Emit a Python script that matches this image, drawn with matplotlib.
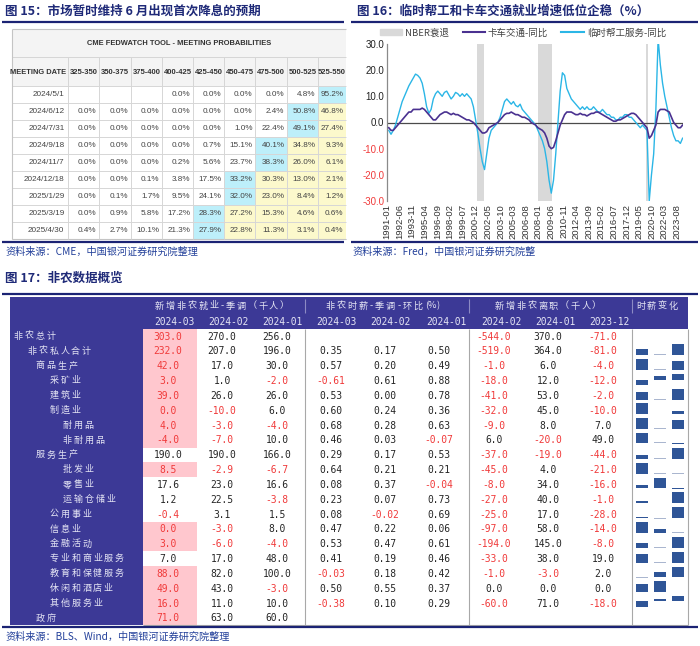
import matplotlib
matplotlib.use('Agg')
import matplotlib.pyplot as plt
import matplotlib.dates as mdates
from matplotlib.patches import Rectangle, Patch
from matplotlib.lines import Line2D
import numpy as np
import pandas as pd

plt.rcParams['font.family'] = ['Noto Sans CJK SC', 'DejaVu Sans']

# ------------------------------------------------------------------ data
# Figure 15: CME FedWatch
fw_title = 'CME FEDWATCH TOOL - MEETING PROBABILITIES'
fw_head = 'MEETING DATE'
fw_ranges = ['325-350', '350-375', '375-400', '400-425', '425-450',
             '450-475', '475-500', '500-525', '525-550']
fw_dates = ['2024/5/1', '2024/6/12', '2024/7/31', '2024/9/18', '2024/11/7',
            '2024/12/18', '2025/1/29', '2025/3/19', '2025/4/30']
fw_probs = [
    [None, None, None, 0.0, 0.0, 0.0, 0.0, 4.8, 95.2],
    [0.0, 0.0, 0.0, 0.0, 0.0, 0.0, 2.4, 50.8, 46.8],
    [0.0, 0.0, 0.0, 0.0, 0.0, 1.0, 22.4, 49.1, 27.4],
    [0.0, 0.0, 0.0, 0.0, 0.7, 15.1, 40.1, 34.8, 9.3],
    [0.0, 0.0, 0.0, 0.2, 5.6, 23.7, 38.3, 26.0, 6.1],
    [0.0, 0.0, 0.1, 3.8, 17.5, 33.2, 30.3, 13.0, 2.1],
    [0.0, 0.1, 1.7, 9.5, 24.1, 32.0, 23.0, 8.4, 1.2],
    [0.0, 0.9, 5.8, 17.2, 28.3, 27.2, 15.3, 4.6, 0.6],
    [0.4, 2.7, 10.1, 21.3, 27.9, 22.8, 11.3, 3.1, 0.4],
]

# Figure 16: quarterly YoY (%), 1991Q1 .. 2024Q1
temp_help = [
    -3, -4.5, -3, -1,   2, 5, 8, 10,   12, 14, 15.5, 17,   18.5, 18, 17, 15,
    11, 6, 3.5, 5,   9, 11, 12, 11,   10, 11.5, 12, 10.5,   9, 10, 11.5, 11,
    10, 11, 10, 11,   10, 9, 6, 1,   -4, -10, -15, -18,   -12, -6, -3, -2,
    -1, 0, 2, 5,   8, 9, 8, 7,   8, 6.5, 6, 7,   5, 4, 3, 2,
    1, 0, -1, -3,   -5, -7, -10, -15,   -22, -27, -22, -12,   0, 12, 19, 18,
    13, 11, 9, 8,   7, 6, 5, 6,   5, 6, 5, 5,   6, 5, 4, 4,
    5, 4, 3, 3,   2, 2, 1, 1,   2, 2, 3, 3,   2, 2, 1, 0,
    -1, -2, -1, -2,   -3, -30, -20, -12,   5, 32, 22, 15,   10, 6, 2, -2,
    -5, -7, -7, -8,   -6]
truck = [
    -2, -3, -3, -2,   -1, 0, 1, 2,   3, 4, 4, 5,   5, 5, 5, 5.5,
    5, 4, 3, 2,   1, 1, 2, 3,   3.5, 4, 4, 3.5,   3, 3.5, 3, 3,
    2.5, 2, 1.5, 1,   1, 0.5, 0, -1,   -2, -3, -4, -4,   -3.5, -2, -1.5, -1,
    -0.5, 0, 1, 2,   3, 3.5, 3.5, 4,   3.5, 3, 3, 2.5,   2, 2, 1.5, 1,
    0, -0.5, -1, -2,   -2.5, -3, -4, -6,   -9, -10, -9.5, -7,   -4, -1, 1, 3,
    4, 4, 4, 3.5,   3, 3, 3.5, 3,   3, 2.5, 3, 3.5,   3.5, 4, 4, 3.5,
    3, 2.5, 2, 1.5,   1, 0.5, 0.5, 1,   1, 1.5, 2, 2.5,   3, 3.5, 3.5, 3,
    2, 1, 0, -1,   -2, -6, -5, -3,   -1, 4, 5, 5,   5, 4.5, 4, 2,
    0, -1, -2, -2,   -1]
recessions = [('2001-03-01', '2001-11-30'), ('2007-12-01', '2009-06-30'),
              ('2020-02-01', '2020-04-30')]
legend_labels = ['NBER衰退', '卡车交通-同比', '临时帮工服务-同比']

# Figure 17: nonfarm overview
nf_rows = ['非农总计', '非农私人合计', '商品生产', '采矿业', '建筑业', '制造业',
           '耐用品', '非耐用品', '服务生产', '批发业', '零售业', '运输仓储业',
           '公用事业', '信息业', '金融活动', '专业和商业服务', '教育和保健服务',
           '休闲和酒店业', '其他服务业', '政府']
nf_level = [0, 1, 2, 3, 3, 3, 4, 4, 2, 4, 4, 4, 3, 3, 3, 3, 3, 3, 3, 2]
nf_groups = ['新增非农就业-季调（千人）', '非农时薪-季调-环比(%)', '新增非农离职（千人）', '时薪变化']
nf_months_pay = ['2024-03', '2024-02', '2024-01']
nf_months_wage = ['2024-03', '2024-02', '2024-01']
nf_months_quit = ['2024-02', '2024-01', '2023-12']
payrolls = [
    [303.0, 270.0, 256.0], [232.0, 207.0, 196.0], [42.0, 17.0, 30.0],
    [3.0, 1.0, -2.0], [39.0, 26.0, 26.0], [0.0, -10.0, 6.0], [4.0, -3.0, -4.0],
    [-4.0, -7.0, 10.0], [190.0, 190.0, 166.0], [8.5, -2.9, -6.7],
    [17.6, 23.0, 16.6], [1.2, 22.5, -3.8], [-0.4, 3.1, 1.5], [0.0, -3.0, 8.0],
    [3.0, -6.0, -4.0], [7.0, 17.0, 48.0], [88.0, 82.0, 100.0],
    [49.0, 43.0, -3.0], [16.0, 11.0, 10.0], [71.0, 63.0, 60.0]]
wages = [
    None, [0.35, 0.17, 0.50], [0.57, 0.20, 0.49], [-0.61, 0.61, 0.88],
    [0.53, 0.00, 0.78], [0.60, 0.24, 0.36], [0.68, 0.28, 0.63],
    [0.46, 0.03, -0.07], [0.29, 0.17, 0.53], [0.64, 0.21, 0.21],
    [0.08, 0.37, -0.04], [0.23, 0.07, 0.73], [0.08, -0.02, 0.69],
    [0.47, 0.22, 0.06], [0.53, 0.47, 0.61], [0.41, 0.19, 0.46],
    [-0.03, 0.18, 0.42], [0.50, 0.55, 0.37], [-0.38, 0.10, 0.29], None]
quits = [
    [-544.0, 370.0, -71.0], [-519.0, 364.0, -81.0], [-1.0, 6.0, -4.0],
    [-18.0, 12.0, -12.0], [-41.0, 53.0, -2.0], [-32.0, 45.0, -10.0],
    [-9.0, 8.0, 7.0], [6.0, -20.0, 49.0], [-37.0, -19.0, -44.0],
    [-45.0, 4.0, -21.0], [-8.0, 34.0, -16.0], [-27.0, 40.0, -1.0],
    [-25.0, 17.0, -28.0], [-97.0, 58.0, -14.0], [-194.0, 145.0, -8.0],
    [-33.0, 38.0, 19.0], [-1.0, -3.0, 2.0], [0.0, 0.0, 0.0],
    [-60.0, 71.0, -18.0], None]

titles = ['图 15：市场暂时维持 6 月出现首次降息的预期',
          '图 16：临时帮工和卡车交通就业增速低位企稳（%）',
          '图 17：非农数据概览']
sources = ['资料来源：CME，中国银河证券研究院整理',
           '资料来源：Fred，中国银河证券研究院整',
           '资料来源：BLS、Wind，中国银河证券研究院整理']

# ------------------------------------------------------------------ style
NAVY = '#1b2374'
TITLE_C = '#1f2a78'
SRC_C = '#23409a'
RED = '#f03a3a'
DARK = '#252525'
PURPLE_BG = '#3c3996'
HEAD_TXT = '#e4e4f4'
CJK = ['Noto Sans CJK SC', 'DejaVu Sans']
MONO = ['DejaVu Sans Mono']
SANS = ['Liberation Sans', 'DejaVu Sans']

fig = plt.figure(figsize=(7.0, 6.46), dpi=100)
ax0 = fig.add_axes([0, 0, 1, 1])
ax0.set_xlim(0, 700)
ax0.set_ylim(646, 0)
ax0.axis('off')


def hline(y, x1, x2, c=NAVY, lw=1.6, z=5):
    ax0.plot([x1, x2], [y, y], color=c, lw=lw, solid_capstyle='butt', zorder=z)


def vline(x, y1, y2, c='#a8a8a8', lw=0.8, z=5):
    ax0.plot([x, x], [y1, y2], color=c, lw=lw, solid_capstyle='butt', zorder=z)


def spaced(x, y, s, step, ha='left', **kw):
    widths = [step if ord(ch) > 255 else step * 0.55 for ch in s]
    total = sum(widths)
    if ha == 'center':
        x = x - total / 2
    cx = x
    for ch, w in zip(s, widths):
        ax0.text(cx + w / 2, y, ch, ha='center', va='center', **kw)
        cx += w


# titles, rules, sources
ax0.text(5, 11, titles[0], fontsize=9, fontweight='bold', color=TITLE_C,
         va='center', ha='left', family=CJK)
ax0.text(357, 11, titles[1], fontsize=9, fontweight='bold', color=TITLE_C,
         va='center', ha='left', family=CJK)
ax0.text(5, 278, titles[2], fontsize=9, fontweight='bold', color=TITLE_C,
         va='center', ha='left', family=CJK)
hline(22, 2, 344)
hline(22, 351, 698)
hline(242, 2, 344)
hline(242, 351, 698)
hline(294, 2, 698)
hline(627, 2, 698)
ax0.text(5, 252, sources[0], fontsize=7.3, color=SRC_C, style='italic',
         va='center', ha='left', family=CJK)
ax0.text(352, 252, sources[1], fontsize=7.3, color=SRC_C, style='italic',
         va='center', ha='left', family=CJK)
ax0.text(5, 637, sources[2], fontsize=7.3, color=SRC_C, style='italic',
         va='center', ha='left', family=CJK)

# ------------------------------------------------------------------ Fig 15 table
edges = [12, 68, 99, 131, 162, 193, 224, 255, 287, 318, 346]
t_top, t_title_b, t_head_b, row_h = 29, 57, 86, 17.0
n_rows = len(fw_dates)
t_bot = t_head_b + row_h * n_rows
GRID = '#d6d6d6'
ax0.add_patch(Rectangle((edges[0], t_top), edges[-1] - edges[0], t_head_b - t_top,
                        fc='#f4f4f4', ec='none', zorder=1))
CYAN, YELL = '#bdeffa', '#fcf9cc'
for i, row in enumerate(fw_probs):
    vals = [v if v is not None else -1 for v in row]
    imax = int(np.argmax(vals))
    y0 = t_head_b + i * row_h
    for j, v in enumerate(row):
        if v is None:
            continue
        fc = None
        if j == imax:
            fc = CYAN
        elif j > imax:
            fc = YELL
        if fc:
            ax0.add_patch(Rectangle((edges[j + 1], y0), edges[j + 2] - edges[j + 1], row_h,
                                    fc=fc, ec='none', zorder=1))
        ax0.text(edges[j + 2] - 2.5, y0 + row_h / 2 + 0.3, f'{v:.1f}%', fontsize=5.9,
                 ha='right', va='center', color='#444444', family=SANS, zorder=6)
    ax0.text(edges[1] - 3.5, y0 + row_h / 2 + 0.3, fw_dates[i], fontsize=5.9,
             ha='right', va='center', color='#444444', family=SANS, zorder=6)
# grid
for k in range(n_rows + 1):
    hline(t_head_b + k * row_h, edges[0], edges[-1], c=GRID, lw=0.7, z=3)
hline(t_title_b, edges[0], edges[-1], c=GRID, lw=0.7, z=3)
hline(t_top, edges[0], edges[-1], c='#c4c4c4', lw=0.8, z=3)
hline(t_bot, edges[0], edges[-1], c='#c4c4c4', lw=0.8, z=3)
vline(edges[0], t_top, t_bot, c='#c4c4c4', lw=0.8, z=3)
for x in edges[1:-1]:
    vline(x, t_title_b, t_bot, c=GRID, lw=0.7, z=3)
ax0.text((edges[0] + edges[-1]) / 2, (t_top + t_title_b) / 2 + 0.5, fw_title,
         fontsize=5.4, fontweight='bold', ha='center', va='center', color='#333333',
         family=SANS, zorder=6)
ax0.text((edges[0] + edges[1]) / 2 - 2, (t_title_b + t_head_b) / 2 + 0.5, fw_head,
         fontsize=5.4, fontweight='bold', ha='center', va='center', color='#333333',
         family=SANS, zorder=6)
for j, r in enumerate(fw_ranges):
    ax0.text((edges[j + 1] + edges[j + 2]) / 2, (t_title_b + t_head_b) / 2 + 0.5, r,
             fontsize=5.5, fontweight='bold', ha='center', va='center', color='#333333',
             family=SANS, zorder=6)

# ------------------------------------------------------------------ Fig 16 chart
ax1 = fig.add_axes([387 / 700, 1 - 201 / 646, 296 / 700, (201 - 44) / 646])
qdates = pd.date_range('1991-02-15', periods=len(temp_help), freq='3MS') + pd.Timedelta(days=14)
for s, e in recessions:
    ax1.axvspan(pd.Timestamp(s), pd.Timestamp(e), color='#d9d9d9', lw=0, zorder=0)
ax1.axhline(0, color='#4a4a4a', lw=0.9, zorder=1)
ax1.plot(qdates, truck, color='#4a3190', lw=1.2, zorder=3)
ax1.plot(qdates, temp_help, color='#2bb6e6', lw=1.0, zorder=2)
ax1.set_xlim(pd.Timestamp('1991-01-01'), pd.Timestamp('2024-04-01'))
ax1.set_ylim(-30, 30)
ax1.set_yticks(np.arange(-30, 31, 10))
ax1.set_yticklabels([f'{v:.1f}' for v in np.arange(-30, 31, 10)])
for lab, v in zip(ax1.get_yticklabels(), np.arange(-30, 31, 10)):
    lab.set_color(RED if v < 0 else '#222222')
    lab.set_fontsize(7)
    lab.set_family(SANS)
xt = pd.date_range('1991-01-01', periods=24, freq='17MS')
ax1.set_xticks(xt)
ax1.set_xticklabels([d.strftime('%Y-%m') for d in xt], rotation=90, fontsize=6.8,
                    family=SANS, color='#333333')
ax1.tick_params(axis='both', length=0, pad=2)
for sp in ['top', 'right', 'bottom']:
    ax1.spines[sp].set_visible(False)
ax1.spines['left'].set_color('#8a8a8a')
ax1.spines['left'].set_linewidth(0.9)
ax1.patch.set_alpha(0)
handles = [Patch(color='#d9d9d9'), Line2D([], [], color='#4a3190', lw=1.5),
           Line2D([], [], color='#2bb6e6', lw=1.5)]
fig.legend(handles, legend_labels, loc='center', bbox_to_anchor=(523 / 700, 1 - 33 / 646),
           ncol=3, frameon=False, fontsize=6.8, handlelength=2.4, handleheight=0.6,
           columnspacing=1.4, handletextpad=0.3, labelcolor='#444444')

# ------------------------------------------------------------------ Fig 17 table
X0, XL, XR = 10, 143, 688
H_TOP, H_BOT = 297, 329
R0, RH = 336.3, 14.83
B_BOT = R0 + RH * (len(nf_rows) - 1) + RH / 2
ax0.add_patch(Rectangle((X0, H_TOP), XR - X0, H_BOT - H_TOP, fc=PURPLE_BG, ec='none', zorder=1))
ax0.add_patch(Rectangle((X0, H_TOP), XL - X0, B_BOT - H_TOP, fc=PURPLE_BG, ec='none', zorder=1))

pay_cx = [168, 222, 277]
wage_cx = [331, 385, 439]
quit_cx = [494, 548, 603]
head_pay_cx = [174, 228, 282]
head_wage_cx = [336, 390, 446]
head_quit_cx = [501, 555, 609]
group_cx = [222, 383, 548, 657]

# header
for g, cx in zip(nf_groups, group_cx):
    spaced(cx, 306, g, 10.8, ha='center', fontsize=6.6, color=HEAD_TXT, family=CJK, zorder=6)
for labs, cxs in [(nf_months_pay, head_pay_cx), (nf_months_wage, head_wage_cx),
                  (nf_months_quit, head_quit_cx)]:
    for lab, cx in zip(labs, cxs):
        ax0.text(cx, 322, lab, fontsize=6.9, ha='center', va='center', color=HEAD_TXT,
                 family=MONO, zorder=6)
for x in [305, 469, 632]:
    vline(x, 299, 313, c='#8c8ac4', lw=0.8, z=4)

# body lines
for x in [305, 469, 632, XR]:
    vline(x, H_BOT, B_BOT, c='#a8a8a8', lw=0.8, z=4)
hline(B_BOT, XL, XR, c='#a8a8a8', lw=0.8, z=4)

indent_x = {0: 13, 1: 27, 2: 35, 3: 49, 4: 62}
PINK = '#ffc7ce'


def fmt(v, nd):
    return f'{v:.{nd}f}'


for i, name in enumerate(nf_rows):
    yc = R0 + i * RH
    spaced(indent_x[nf_level[i]], yc, name, 10.8, fontsize=6.5, color=HEAD_TXT,
           family=CJK, zorder=6)
    p = payrolls[i]
    hi = p[0] > p[1]
    if hi:
        ax0.add_patch(Rectangle((XL, yc - RH / 2), 197 - XL, RH, fc=PINK, ec='none', zorder=2))
    for j, v in enumerate(p):
        col = RED if (v < 0 or (j == 0 and hi)) else DARK
        ax0.text(pay_cx[j], yc + 0.3, fmt(v, 1), fontsize=6.9, ha='center', va='center',
                 color=col, family=MONO, zorder=6)
    if wages[i] is not None:
        for j, v in enumerate(wages[i]):
            ax0.text(wage_cx[j], yc + 0.3, fmt(v, 2), fontsize=6.9, ha='center', va='center',
                     color=RED if v < 0 else DARK, family=MONO, zorder=6)
        # sparkline
        w = wages[i]
        lo, hi_v = min(w), max(w)
        base = 0.0 if lo < 0 else lo
        span = max(hi_v, 0) - lo
        scale = 11.0 / span if span > 0 else 0
        bottom_px = yc + 4.0
        base_px = bottom_px - (base - lo) * scale
        for j, v in enumerate(w):
            h = (v - base) * scale
            bx = 636 + j * 18
            if abs(h) < 1.0:
                ax0.bar(bx + 6, -0.8 if h >= 0 else 0.8, bottom=base_px, width=12,
                        color='#aab6cf', zorder=4)
            else:
                ax0.bar(bx + 6, -h, bottom=base_px, width=12, color='#2f5597', zorder=4)
    if quits[i] is not None:
        for j, v in enumerate(quits[i]):
            ax0.text(quit_cx[j], yc + 0.3, fmt(v, 1), fontsize=6.9, ha='center', va='center',
                     color=RED if v < 0 else DARK, family=MONO, zorder=6)

fig.savefig('out.png', dpi=100)
